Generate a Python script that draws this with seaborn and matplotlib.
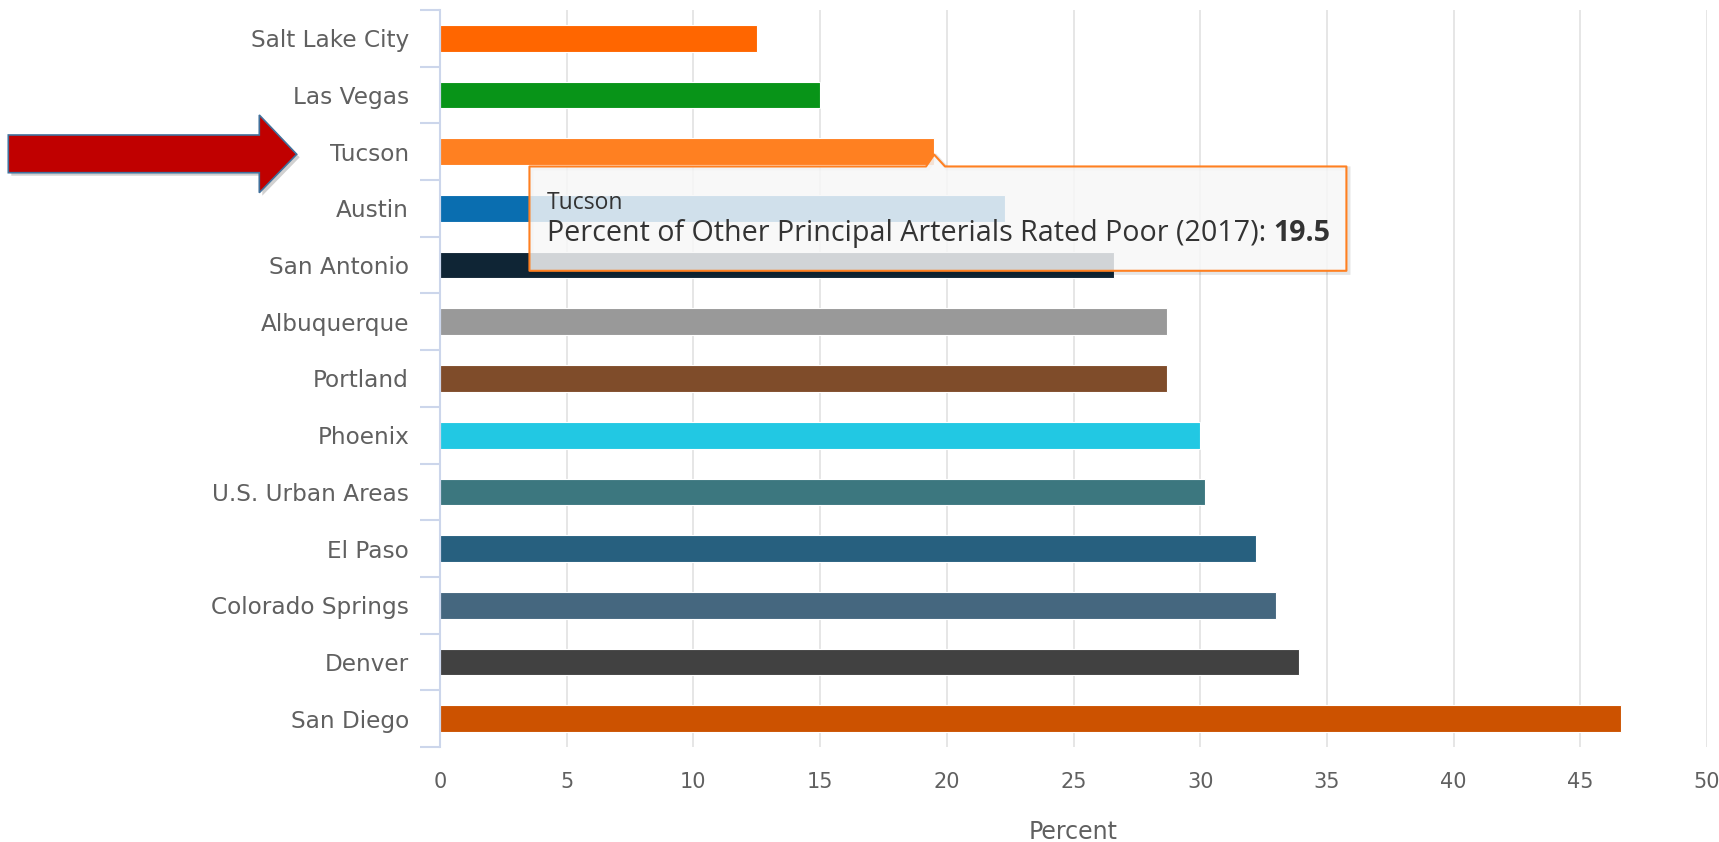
import matplotlib
matplotlib.use("Agg")
import matplotlib.pyplot as plt
import matplotlib.transforms as mtransforms
from matplotlib.patches import Polygon
from matplotlib.ticker import FixedLocator
import numpy as np
import pandas as pd
import seaborn as sns

# ---- data ----
cities = ["Salt Lake City", "Las Vegas", "Tucson", "Austin", "San Antonio",
          "Albuquerque", "Portland", "Phoenix", "U.S. Urban Areas", "El Paso",
          "Colorado Springs", "Denver", "San Diego"]
percent = [12.5, 15.0, 19.5, 22.3, 26.6, 28.7, 28.7, 30.0, 30.2, 32.2, 33.0, 33.9, 46.6]
bar_colors = ["#FF6600", "#089418", "#FF8021", "#0A6EB0", "#0F2535",
              "#999999", "#7F4C2A", "#22C8E3", "#3C777F", "#27607F",
              "#45677F", "#414141", "#CC5200"]
x_ticks = [0, 5, 10, 15, 20, 25, 30, 35, 40, 45, 50]
x_label = "Percent"
highlight_city = "Tucson"
tooltip_series = "Percent of Other Principal Arterials Rated Poor (2017)"

# ---- style ----
sns.set_theme(style="white")
plt.rcParams["font.family"] = ["DejaVu Sans"]

W, H = 1719, 842
fig = plt.figure(figsize=(W / 100, H / 100), dpi=100)
fig.patch.set_facecolor("white")
ax = fig.add_axes([440 / W, 1 - 747 / H, (1707 - 440) / W, (747 - 10) / H])

df = pd.DataFrame({"city": cities, "percent": percent})
sns.barplot(data=df, x="percent", y="city", hue="city",
            palette=dict(zip(cities, bar_colors)), orient="h", width=0.47,
            saturation=1, legend=False, ax=ax, edgecolor="white",
            linewidth=0.8, zorder=3)

ax.set_xlim(x_ticks[0], x_ticks[-1])
ax.set_ylim(len(cities) - 0.5, -0.5)
ax.set_axisbelow(True)
ax.xaxis.grid(True, color="#e6e6e6", linewidth=1.4)
ax.yaxis.grid(False)
for s in ["top", "right", "bottom"]:
    ax.spines[s].set_visible(False)
ax.spines["left"].set_color("#ccd6eb")
ax.spines["left"].set_linewidth(1.5)
ax.spines["left"].set_zorder(4)

ax.set_xticks(x_ticks)
ax.set_xticklabels([str(t) for t in x_ticks])
ax.tick_params(axis="x", length=0, pad=18, labelsize=15, labelcolor="#606060")
ax.tick_params(axis="y", which="major", length=0, pad=22.3, labelsize=16.7,
               labelcolor="#606060")
ax.yaxis.set_minor_locator(FixedLocator(np.arange(-0.5, len(cities), 1.0)))
ax.tick_params(axis="y", which="minor", left=True, length=14.4, width=1.5,
               color="#ccd6eb")
ax.set_ylabel("")
ax.set_xlabel(x_label, fontsize=17, color="#606060", labelpad=20)

# ---- tooltip ----
ti = cities.index(highlight_city)
val = percent[ti]
x0, x1 = val - 15.97, val + 16.27
y0, y1 = ti + 0.26, ti + 2.10
tip_pts = [(x0, y0), (val - 0.32, y0), (val, ti + 0.05), (val + 0.43, y0),
           (x1, y0), (x1, y1), (x0, y1)]
shadow_tr = mtransforms.offset_copy(ax.transData, fig=fig, x=2, y=-2, units="dots")
ax.add_patch(Polygon(tip_pts, closed=True, facecolor="none",
                     edgecolor=(0, 0, 0, 0.10), linewidth=3,
                     transform=shadow_tr, zorder=5, clip_on=False))
ax.add_patch(Polygon(tip_pts, closed=True, facecolor=(0.97, 0.97, 0.97, 0.84),
                     edgecolor="#FF8021", linewidth=1.5, zorder=6,
                     joinstyle="round", clip_on=False))
tx = val - 15.28
ax.text(tx, ti + 0.90, highlight_city, fontsize=16.5, family="Open Sans",
        color="#333333", va="center", ha="left", zorder=7)
main_y = ti + 1.57
t_main = ax.text(tx, main_y, tooltip_series + ": ", fontsize=20.6, family="Open Sans",
                 color="#333333", va="baseline", ha="left", zorder=7)
fig.canvas.draw()
bb = t_main.get_window_extent(renderer=fig.canvas.get_renderer())
bx = ax.transData.inverted().transform((bb.x1, bb.y0))[0]
ax.text(bx, main_y, f"{val:.1f}", fontsize=20.6, family="Open Sans",
        fontweight="bold", color="#333333", va="baseline", ha="left", zorder=7)

# ---- red block arrow pointing at the highlighted label ----
arrow_px = [(8.3, 135), (259.3, 135), (259.3, 115), (296.7, 154.3),
            (259.3, 192.7), (259.3, 172.7), (8.3, 172.7)]
arrow_fig = [(x / W, 1 - y / H) for x, y in arrow_px]
arrow_shadow = mtransforms.offset_copy(fig.transFigure, fig=fig, x=3, y=-3, units="dots")
fig.patches.append(Polygon(arrow_fig, closed=True, facecolor=(0, 0, 0, 0.18),
                           edgecolor="none", transform=arrow_shadow, zorder=8))
fig.patches.append(Polygon(arrow_fig, closed=True, facecolor="#C00000",
                           edgecolor="#41719C", linewidth=1.2,
                           transform=fig.transFigure, zorder=9))

fig.savefig("out.png", dpi=100, facecolor="white")
